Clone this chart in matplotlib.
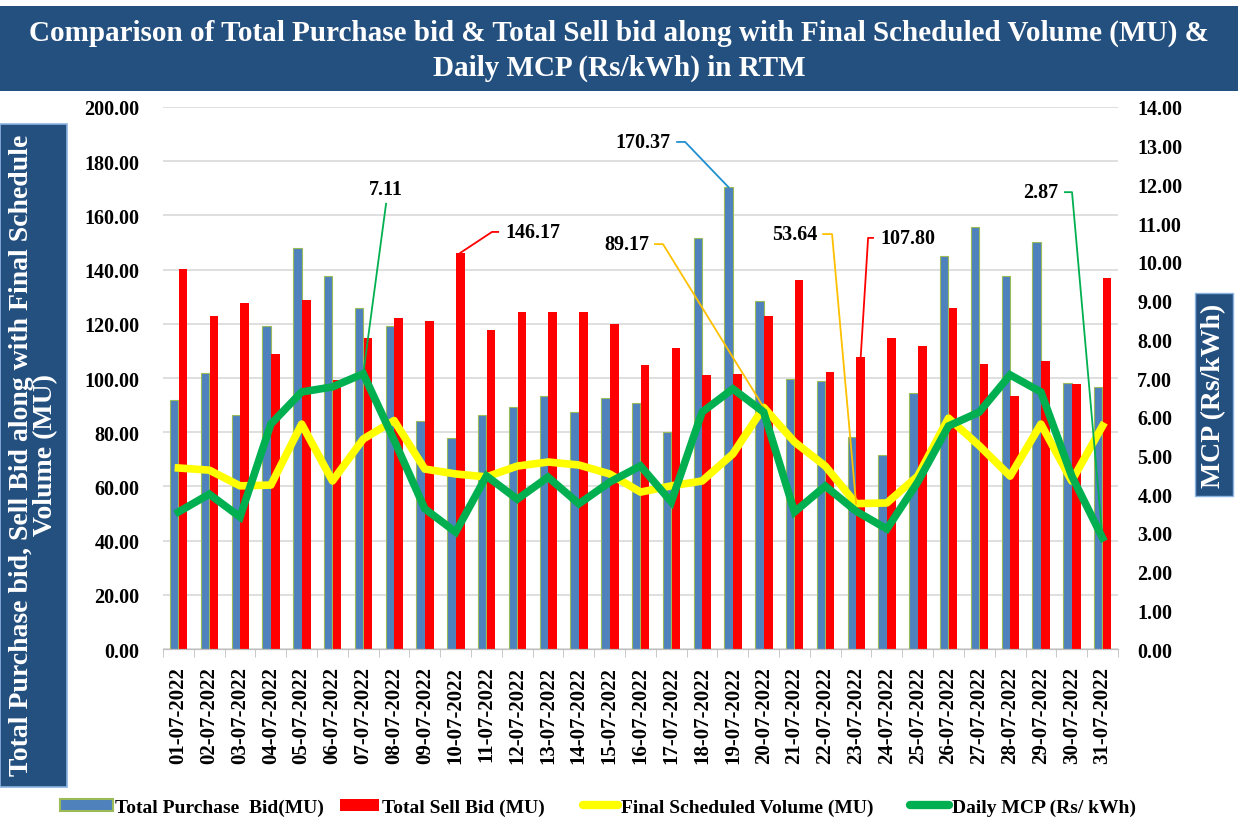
import numpy as np
import matplotlib
matplotlib.use("Agg")
import matplotlib.pyplot as plt
from matplotlib.patches import Rectangle, Patch
from matplotlib.lines import Line2D

plt.rcParams['font.family'] = ['Liberation Serif', 'DejaVu Serif']
plt.rcParams['font.weight'] = 'bold'

# data
dates = ["%02d-07-2022" % d for d in range(1, 32)]
purchase_bid = [92, 102, 86.3, 119.2, 148, 137.6, 125.8, 119.2, 84, 78,
                86.3, 89.3, 93.4, 87.4, 92.6, 90.8, 80, 151.5, 170.37, 128.4,
                99.6, 98.8, 78.2, 71.6, 94.5, 145, 155.7, 137.6, 150.2, 98.2, 96.7]
sell_bid = [140.2, 122.9, 127.7, 108.9, 128.8, 99.3, 114.8, 122.1, 121, 146.17,
            117.7, 124.4, 124.4, 124.4, 120, 104.8, 111, 101, 101.5, 123,
            136.2, 102.2, 107.80, 114.8, 111.8, 125.8, 105.2, 93.4, 106.3, 97.8, 136.9]
sched_vol = [66.8, 66, 60.2, 60.5, 83, 62, 77.5, 84.3, 66.4, 64.6,
             63.5, 67.5, 69, 67.9, 64.6, 57.9, 60.2, 62, 72, 89.17,
             76.4, 67.5, 53.64, 53.9, 63.8, 85.2, 75, 63.8, 83, 62, 82.3]
mcp = [3.54, 4.0, 3.41, 5.81, 6.64, 6.77, 7.11, 5.4, 3.62, 3.02,
       4.47, 3.87, 4.44, 3.75, 4.31, 4.73, 3.8, 6.12, 6.72, 6.12,
       3.54, 4.21, 3.56, 3.1, 4.31, 5.76, 6.12, 7.08, 6.64, 4.47, 2.87]

BLUE = '#4F81BD'
RED = '#FF0000'
YELLOW = '#FFFF00'
GREEN = '#00B050'
NAVY = '#24507F'

fig = plt.figure(figsize=(12.38, 8.2), dpi=100)
ax = fig.add_axes([0.1317, 0.2073, 0.7713, 0.661])
ax2 = ax.twinx()

x = np.arange(len(dates))
ax.bar(x - 0.14, purchase_bid, width=0.27, color=BLUE, edgecolor='#9BBB59', linewidth=0.8, zorder=2)
ax.bar(x + 0.15, sell_bid, width=0.28, color=RED, zorder=2)
ax.plot(x, sched_vol, color=YELLOW, linewidth=5.5, zorder=3, solid_joinstyle='round')
ax2.plot(x, mcp, color=GREEN, linewidth=5.5, zorder=3, solid_joinstyle='miter')

ax.set_xlim(-0.5, len(dates) - 0.5)
ax.set_ylim(0, 200)
ax2.set_ylim(0, 14)
ax.set_yticks(np.arange(0, 201, 20))
ax2.set_yticks(np.arange(0, 15, 1))
ax.yaxis.set_major_formatter(matplotlib.ticker.FormatStrFormatter('%.2f'))
ax2.yaxis.set_major_formatter(matplotlib.ticker.FormatStrFormatter('%.2f'))
ax.grid(axis='y', color='#D9D9D9', linewidth=1.2, zorder=0)
ax.set_axisbelow(True)

ax.set_xticks(x)
ax.set_xticklabels(dates, rotation=90, fontsize=15, fontweight='bold')
ax.set_xticks(np.arange(-0.5, len(dates), 1), minor=True)
ax.tick_params(axis='x', which='major', length=0, pad=12)
ax.tick_params(axis='x', which='minor', length=6, color='#BFBFBF')
ax.tick_params(axis='y', length=0, labelsize=14.5, pad=17)
ax2.tick_params(axis='y', length=0, labelsize=14.5, pad=14)
for a in (ax, ax2):
    for s in ('top', 'left', 'right'):
        a.spines[s].set_visible(False)
    a.spines['bottom'].set_color('#BFBFBF')

# value call-outs with leader lines
def callout(axis, text, pt, txt, stub, color, ha):
    xs = [pt[0]] + list(stub)
    ys = [pt[1]] + [txt[1]] * len(stub)
    axis.plot(xs, ys, color=color, linewidth=1.3, zorder=4, clip_on=False)
    axis.text(txt[0], txt[1], text, ha=ha, va='center', fontsize=14.5, fontweight='bold', zorder=5)

callout(ax, '146.17', (9 + 0.15, sell_bid[9]), (10.60, 153.9), (10.18, 10.38), RED, 'left')
callout(ax, '170.37', (18 - 0.14, purchase_bid[18]), (15.99, 187.1), (16.45, 16.19), '#1F8FD0', 'right')
callout(ax, '89.17', (19, sched_vol[19]), (15.28, 149.4), (15.73, 15.47), '#FFC000', 'right')
callout(ax, '53.64', (22, sched_vol[22]), (20.73, 153.1), (21.22, 20.93), '#FFC000', 'right')
callout(ax, '107.80', (22 + 0.15, sell_bid[22]), (22.78, 151.7), (22.39, 22.55), RED, 'left')
callout(ax2, '2.87', (30, mcp[30]), (28.56, 11.8), (29.01, 28.78), GREEN, 'right')
ax2.plot([6, 6.74], [mcp[6], 11.5], color=GREEN, linewidth=1.3, zorder=4)
ax2.text(6.74, 11.88, '7.11', ha='center', va='center', fontsize=14.5, fontweight='bold')

# title banner
fig.patches.append(Rectangle((0, 1 - 92 / 820), 1, 85 / 820, transform=fig.transFigure,
                             facecolor=NAVY, edgecolor='none', zorder=0))
fig.text(0.5, 1 - 33 / 820, 'Comparison of Total Purchase bid & Total Sell bid along with Final Scheduled Volume (MU) &',
         ha='center', va='center', color='white', fontsize=21, fontweight='bold')
fig.text(0.5, 1 - 68 / 820, 'Daily MCP (Rs/kWh) in RTM',
         ha='center', va='center', color='white', fontsize=21, fontweight='bold')

# left axis-title box
fig.patches.append(Rectangle((0, 1 - 788 / 820), 67 / 1238, 663 / 820, transform=fig.transFigure,
                             facecolor=NAVY, edgecolor='#8DB3E2', linewidth=1.2, zorder=0))
fig.text(34 / 1238, 1 - 455 / 820,
         'Total Purchase bid, Sell Bid along with Final Schedule\nVolume (MU)',
         rotation=90, ha='center', va='center', color='white', fontsize=20,
         fontweight='bold', linespacing=0.95)

# right axis-title box
fig.patches.append(Rectangle((1195 / 1238, 1 - 497 / 820), 38 / 1238, 203 / 820, transform=fig.transFigure,
                             facecolor=NAVY, edgecolor='#8DB3E2', linewidth=1.0, zorder=0))
fig.text(1214 / 1238, 1 - 396 / 820, 'MCP (Rs/kWh)', rotation=90, ha='center', va='center',
         color='white', fontsize=20, fontweight='bold')

# legend: one entry per slot, placed like the reference
handles = [Patch(facecolor=BLUE, edgecolor='#9BBB59', linewidth=1.5),
           Patch(facecolor=RED),
           Line2D([], [], color=YELLOW, linewidth=6, solid_capstyle='round'),
           Line2D([], [], color=GREEN, linewidth=6, solid_capstyle='round')]
labels = ['Total Purchase  Bid(MU)', 'Total Sell Bid (MU)',
          'Final Scheduled Volume (MU)', 'Daily MCP (Rs/ kWh)']
slot_x = [60, 340, 583, 910]
hlen = [2.7, 2.0, 1.8, 2.0]
for h, lab, sx, hl in zip(handles, labels, slot_x, hlen):
    fig.legend([h], [lab], loc='center left', bbox_to_anchor=(sx / 1238, 1 - 808 / 820),
               frameon=False, prop={'size': 14, 'weight': 'bold'}, handlelength=hl,
               handleheight=0.6, handletextpad=0.15, borderpad=0, borderaxespad=0)

fig.savefig('out.png', dpi=100)
